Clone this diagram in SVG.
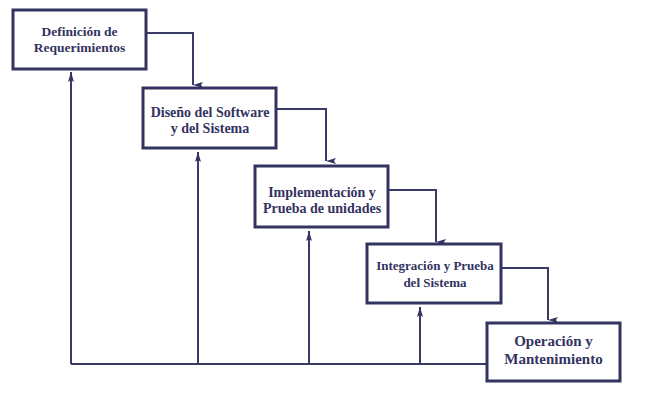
<svg xmlns="http://www.w3.org/2000/svg" width="645" height="400" viewBox="0 0 645 400">
<style>
.box{fill:#fff;stroke:#33335f;stroke-width:3}
.t{font-family:"Liberation Serif","Times New Roman",serif;font-weight:bold;fill:#33335f;text-anchor:middle}
.c{fill:none;stroke:#3a3a68;stroke-width:2}
</style>
<defs>
<marker id="a" viewBox="0 0 6 10" refX="3" refY="10" markerWidth="6" markerHeight="10" markerUnits="userSpaceOnUse" orient="auto-start-reverse">
<path d="M0,0 L3,10 L6,0 L3,2 Z" fill="#33335f"/>
</marker>
<marker id="u" viewBox="0 0 6 10" refX="3" refY="0" markerWidth="6" markerHeight="10" markerUnits="userSpaceOnUse" orient="0">
<path d="M0,10 L3,0 L6,10 L3,8 Z" fill="#33335f"/>
</marker>
</defs>
<g id="connectors">
<path class="c" d="M146,33 H193 V85" marker-end="url(#a)"/>
<path class="c" d="M276,109 H326 V161" marker-end="url(#a)"/>
<path class="c" d="M388,190 H436 V242" marker-end="url(#a)"/>
<path class="c" d="M501,268 H548 V320" marker-end="url(#a)"/>
<path class="c" d="M487,364 H71"/>
<path class="c" d="M71,364 V72" marker-end="url(#u)"/>
<path class="c" d="M198,364 V152" marker-end="url(#u)"/>
<path class="c" d="M309,364 V231" marker-end="url(#u)"/>
<path class="c" d="M420,364 V307" marker-end="url(#u)"/>
</g>
<g id="n1">
<rect class="box" x="13" y="10" width="133" height="59"/>
<text class="t" x="79.5" y="36" font-size="13.5">Definición de</text>
<text class="t" x="79.5" y="52" font-size="13.5">Requerimientos</text>
</g>
<g id="n2">
<rect class="box" x="143" y="88" width="133" height="60"/>
<text class="t" x="210" y="117" font-size="14">Diseño del Software</text>
<text class="t" x="210" y="133" font-size="14">y del Sistema</text>
</g>
<g id="n3">
<rect class="box" x="255" y="166" width="133" height="61"/>
<text class="t" x="322" y="197" font-size="14">Implementación y</text>
<text class="t" x="322" y="213" font-size="14">Prueba de unidades</text>
</g>
<g id="n4">
<rect class="box" x="367" y="244" width="134" height="59" stroke-width="4"/>
<text class="t" x="435" y="270" font-size="13">Integración y Prueba</text>
<text class="t" x="435" y="287" font-size="13">del Sistema</text>
</g>
<g id="n5">
<rect class="box" x="487" y="323" width="133" height="58"/>
<text class="t" x="553.5" y="346" font-size="15">Operación y</text>
<text class="t" x="553.5" y="364" font-size="15">Mantenimiento</text>
</g>
</svg>
